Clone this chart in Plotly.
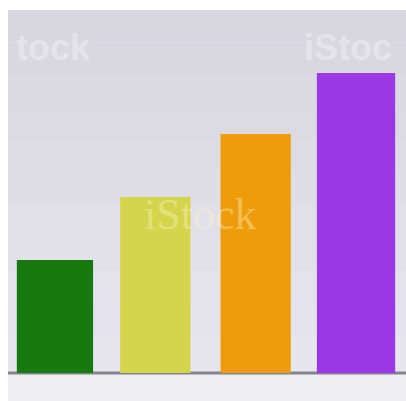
import plotly.graph_objects as go

categories = ["A", "B", "C", "D"]
values = [113, 176, 239, 300]
colors = ["#167a10", "#d3d64c", "#ee9c0c", "#9a38e6"]
widths = [0.76, 0.70, 0.70, 0.78]

xpos = list(range(len(categories)))

fig = go.Figure()
fig.add_trace(go.Bar(
    x=xpos, y=values, width=widths,
    marker=dict(color=colors, line=dict(width=0)),
    showlegend=False, hoverinfo="skip",
))

# soft vertical background gradient (darker at top)
shapes = []
n = 12
top_c = (216, 215, 223)
bot_c = (232, 230, 240)
for i in range(n):
    t = i / (n - 1)
    c = tuple(int(round(top_c[k] + (bot_c[k] - top_c[k]) * t)) for k in range(3))
    shapes.append(dict(type="rect", xref="paper", yref="paper", x0=0, x1=1,
                       y0=1 - (i + 1) / n, y1=1 - i / n,
                       fillcolor="rgb(%d,%d,%d)" % c, line=dict(width=0), layer="below"))
shapes += [
    dict(type="rect", xref="paper", yref="y", x0=0, x1=1, y0=-28, y1=0,
         fillcolor="#eeedf2", line=dict(width=0), layer="below"),
    dict(type="line", xref="paper", yref="y", x0=0, x1=1, y0=0, y1=0,
         line=dict(color="#85848c", width=3), layer="below"),
]

fig.update_layout(
    width=406, height=401,
    margin=dict(l=8, r=0, t=10, b=0),
    paper_bgcolor="#ffffff",
    plot_bgcolor="#e1dfe8",
    xaxis=dict(range=[-0.468, 3.498], visible=False, fixedrange=True),
    yaxis=dict(range=[-28, 363], visible=False, fixedrange=True),
    shapes=shapes,
    annotations=[
        dict(text="<b>tock</b>", xref="paper", yref="paper", x=0.015, y=0.903,
             xanchor="left", yanchor="middle", showarrow=False,
             font=dict(family="Liberation Sans", size=36, color="rgba(255,255,255,0.32)")),
        dict(text="<b>iStoc</b>", xref="paper", yref="paper", x=0.97, y=0.903,
             xanchor="right", yanchor="middle", showarrow=False,
             font=dict(family="Liberation Sans", size=36, color="rgba(255,255,255,0.32)")),
        dict(text="iStock", xref="paper", yref="paper", x=0.482, y=0.476,
             xanchor="center", yanchor="middle", showarrow=False,
             font=dict(family="Liberation Serif", size=44, color="rgba(255,245,200,0.4)")),
    ],
)

fig.write_html(
    "out.html",
    config={"displayModeBar": False},
    post_script="document.body.style.margin='0';document.body.style.overflow='hidden';",
)
